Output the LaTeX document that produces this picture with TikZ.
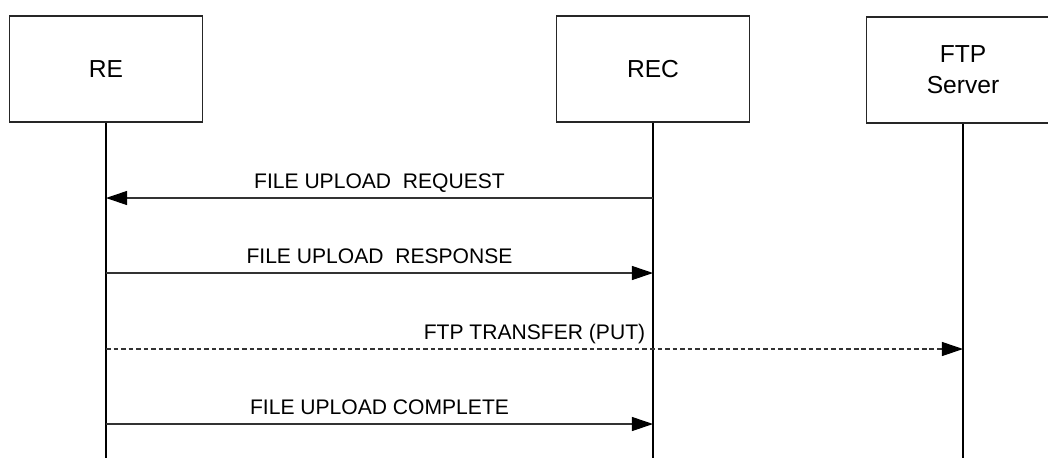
\documentclass[tikz,border=0pt]{standalone}
\usepackage{fontspec}
\setmainfont{Liberation Sans}
\usetikzlibrary{positioning}
\usetikzlibrary{arrows.meta}
\tikzset{my_chart/.style={x=0.02cm, y=-0.02cm, line width=0.6pt}}
\tikzset{my_entity/.style={draw=black!85, rectangle, minimum width=3.86cm, minimum height=2.12cm, align=center, font=\fontsize{14}{17.5}\selectfont}}
\tikzset{my_message/.style={-{Triangle[length=12pt, width=8pt, color=black]}, draw=black!80}}
\tikzset{my_label/.style={above=5pt, inner sep=0pt, text depth=0pt, font=\fontsize{12}{14}\selectfont}}

\begin{document}
\begin{tikzpicture}[my_chart]
    \useasboundingbox (0,0) rectangle (1048,458);
    \node[my_entity] (re) at (106,69) {RE};
    \node[my_entity] (rec) at (653,69) {REC};
    \node[my_entity] (ftp) at (963,70) {FTP\\Server};

    % lifelines
    \coordinate (re_end) at (106,458);
    \coordinate (rec_end) at (653,458);
    \coordinate (ftp_end) at (963,458);
    \draw (re) -- (re_end);
    \draw (rec) -- (rec_end);
    \draw (ftp) -- (ftp_end);

    % message points
    \coordinate (re_1) at (106,198);
    \coordinate (rec_1) at (653,198);
    \coordinate (re_2) at (106,273);
    \coordinate (rec_2) at (653,273);
    \coordinate (re_3) at (106,349);
    \coordinate (ftp_3) at (963,349);
    \coordinate (re_4) at (106,424);
    \coordinate (rec_4) at (653,424);

    \path
        (rec_1) edge [my_message] node [my_label] {FILE UPLOAD~~REQUEST} (re_1)
        (re_2) edge [my_message] node [my_label] {FILE UPLOAD~~RESPONSE} (rec_2)
        (re_3) edge [my_message, dash pattern=on 2.6pt off 1.7pt] node [my_label] {FTP TRANSFER (PUT)} (ftp_3)
        (re_4) edge [my_message] node [my_label] {FILE UPLOAD COMPLETE} (rec_4)
    ;
\end{tikzpicture}
\end{document}
